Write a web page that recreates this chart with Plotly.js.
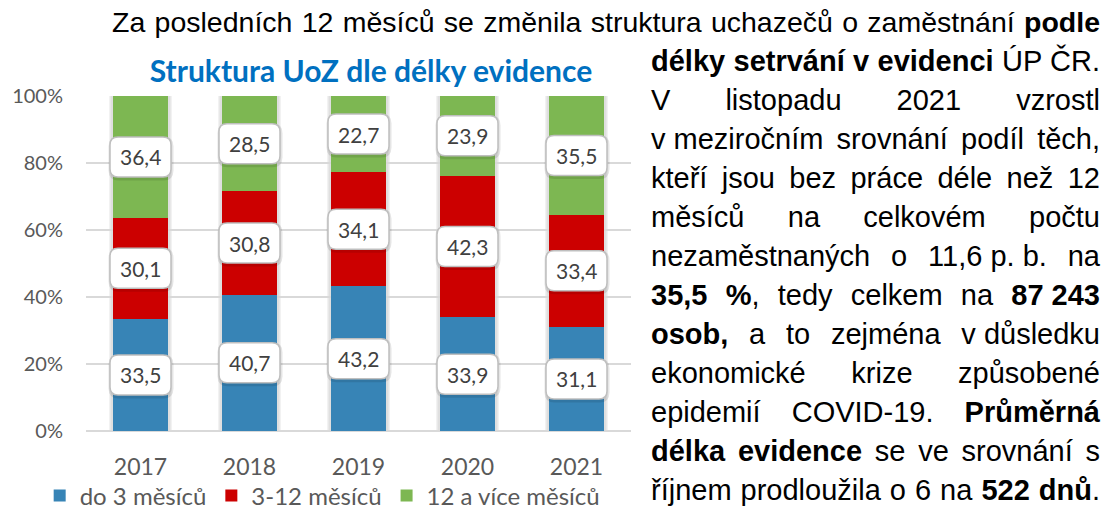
<!DOCTYPE html>
<html>
<head>
<meta charset="utf-8">
<script src="https://cdn.plot.ly/plotly-3.0.1.min.js"></script>
<style>
  html, body { margin: 0; padding: 0; background: #ffffff; }
  #wrap { position: relative; width: 1114px; height: 509px; overflow: hidden; }
  #chart { position: absolute; left: 0; top: 0; width: 1114px; height: 509px; }
  .ln { position: absolute; height: 39px; line-height: 39px; font-family: "Liberation Sans", Arial, sans-serif;
        font-size: 29px; color: #000; text-align: justify; text-align-last: justify; pointer-events: none; }
  .nb { display: inline-block; }
</style>
</head>
<body>
<div id="wrap">
  <div id="chart"></div>
  <div id="text"></div>
</div>
<script>
// ---- data ----
const years = ['2017', '2018', '2019', '2020', '2021'];
const seriesNames = ['do 3 měsíců', '3-12 měsíců', '12 a více měsíců'];
const upTo3 = [33.5, 40.7, 43.2, 33.9, 31.1];
const from3to12 = [30.1, 30.8, 34.1, 42.3, 33.4];
const over12 = [36.4, 28.5, 22.7, 23.9, 35.5];
const yTicks = [0, 20, 40, 60, 80, 100];
const yTickText = ['0%', '20%', '40%', '60%', '80%', '100%'];
const chartTitle = 'Struktura UoZ dle délky evidence';

const paragraphLines = [
  'Za posledních 12 měsíců se změnila struktura uchazečů o zaměstnání <b>podle</b>',
  '<b>délky setrvání v evidenci</b> ÚP ČR.',
  'V listopadu 2021 vzrostl',
  '<span class="nb">v&nbsp;meziročním</span> srovnání podíl těch,',
  'kteří jsou bez práce déle než 12',
  'měsíců na celkovém počtu',
  'nezaměstnaných o <span class="nb">11,6&nbsp;p.&nbsp;b.</span> na',
  '<b>35,5 %</b>, tedy celkem na <b class="nb">87&nbsp;243</b>',
  '<b>osob,</b> a to zejména <span class="nb">v&nbsp;důsledku</span>',
  'ekonomické krize způsobené',
  'epidemií COVID-19. <b>Průměrná</b>',
  '<b>délka evidence</b> se ve srovnání s',
  'říjnem prodloužila o 6 na <b>522 dnů</b>.'
];

// ---- styles ----
const colors = ['#3784B6', '#CC0000', '#7DB752'];
const series = [upTo3, from3to12, over12];
const labelFont = { family: 'Lato, sans-serif', size: 21, color: '#404040' };
const axisGrey = '#595959';

const traces = series.map((vals, i) => ({
  type: 'bar',
  name: seriesNames[i],
  x: years,
  y: vals,
  marker: { color: colors[i], line: { width: 0 } },
  hoverinfo: 'skip'
}));

// label positions computed from data (segment centres)
const shapes = [];
const annotations = [];
const boxW = 61, boxH = 40, r = 8;
function rrect(w, h, rad, dx, dy) {
  const x0 = -w / 2 + dx, x1 = w / 2 + dx, y0 = -h / 2 + dy, y1 = h / 2 + dy;
  return `M${x0 + rad},${y0} L${x1 - rad},${y0} Q${x1},${y0} ${x1},${y0 + rad} L${x1},${y1 - rad} Q${x1},${y1} ${x1 - rad},${y1} ` +
         `L${x0 + rad},${y1} Q${x0},${y1} ${x0},${y1 - rad} L${x0},${y0 + rad} Q${x0},${y0} ${x0 + rad},${y0} Z`;
}

years.forEach((yr, j) => {
  let base = 0;
  const total = series.reduce((s, arr) => s + arr[j], 0);
  [[31.5, 0.05], [30, 0.08]].forEach(([hw, op]) => {
    shapes.push({
      type: 'rect', layer: 'below', xref: 'x', yref: 'y', xsizemode: 'pixel', xanchor: j,
      x0: -hw, x1: hw, y0: 0, y1: Math.min(total, 100),
      fillcolor: `rgba(0,0,0,${op})`, line: { width: 0 }
    });
  });
  series.forEach((arr) => {
    const v = arr[j];
    const c = base + v / 2;
    base += v;
    shapes.push({
      type: 'path', xref: 'x', yref: 'y', xsizemode: 'pixel', ysizemode: 'pixel', xanchor: j, yanchor: c,
      path: rrect(boxW + 4, boxH + 4, r + 2, 0.5, -1.5), fillcolor: 'rgba(0,0,0,0.10)', line: { width: 0 }
    });
    shapes.push({
      type: 'path', xref: 'x', yref: 'y', xsizemode: 'pixel', ysizemode: 'pixel', xanchor: j, yanchor: c,
      path: rrect(boxW, boxH, r, 0, 0), fillcolor: '#FFFFFF', line: { color: '#BFBFBF', width: 1.5 }
    });
    annotations.push({
      x: j, y: c, xref: 'x', yref: 'y', text: v.toFixed(1).replace('.', ','),
      showarrow: false, font: labelFont, xanchor: 'center', yanchor: 'middle'
    });
  });
});

const layout = {
  width: 1114, height: 509,
  margin: { l: 86, r: 483, t: 96, b: 78, autoexpand: false },
  paper_bgcolor: '#FFFFFF', plot_bgcolor: '#FFFFFF',
  barmode: 'stack', bargap: 0.5,
  showlegend: true,
  title: {
    text: chartTitle,
    font: { family: 'Lato, sans-serif', size: 30, color: '#0070C0', weight: 700 },
    xref: 'container', yref: 'container', x: 371 / 1114, xanchor: 'center',
    y: 1 - 71 / 509, yanchor: 'middle', automargin: false
  },
  xaxis: {
    type: 'category', range: [-0.5, years.length - 0.5], autorange: false, automargin: false,
    showgrid: false, showline: false, zeroline: false, ticks: '',
    tickfont: { family: 'Lato, sans-serif', size: 23, color: axisGrey },
    ticklabelstandoff: 20, fixedrange: true
  },
  yaxis: {
    range: [0, 100], autorange: false, automargin: false, tickmode: 'array', tickvals: yTicks, ticktext: yTickText, showline: false,
    gridcolor: '#D9D9D9', gridwidth: 1.3, zeroline: true, zerolinecolor: '#D9D9D9', zerolinewidth: 2,
    tickfont: { family: 'Lato, sans-serif', size: 20, color: axisGrey },
    ticklabelstandoff: 22, fixedrange: true
  },
  legend: {
    orientation: 'h', traceorder: 'normal',
    xref: 'paper', yref: 'paper', x: -0.085, xanchor: 'left', y: -65 / 335, yanchor: 'middle',
    font: { family: 'Lato, sans-serif', size: 24, color: axisGrey }, itemclick: false, itemdoubleclick: false,
    bgcolor: 'rgba(0,0,0,0)'
  },
  shapes: shapes,
  annotations: annotations
};

Plotly.newPlot('chart', traces, layout, { displayModeBar: false, staticPlot: true });

// paragraph text (justified lines)
const textDiv = document.getElementById('text');
paragraphLines.forEach((html, k) => {
  const d = document.createElement('div');
  d.className = 'ln';
  const centre = 22 + 39 * k;
  d.style.top = (centre - 19.5) + 'px';
  if (k === 0) { d.style.left = '112px'; d.style.width = '988px'; d.style.fontSize = '28.5px'; }
  else { d.style.left = '651px'; d.style.width = '449px'; }
  d.innerHTML = html;
  textDiv.appendChild(d);
});
</script>
</body>
</html>
